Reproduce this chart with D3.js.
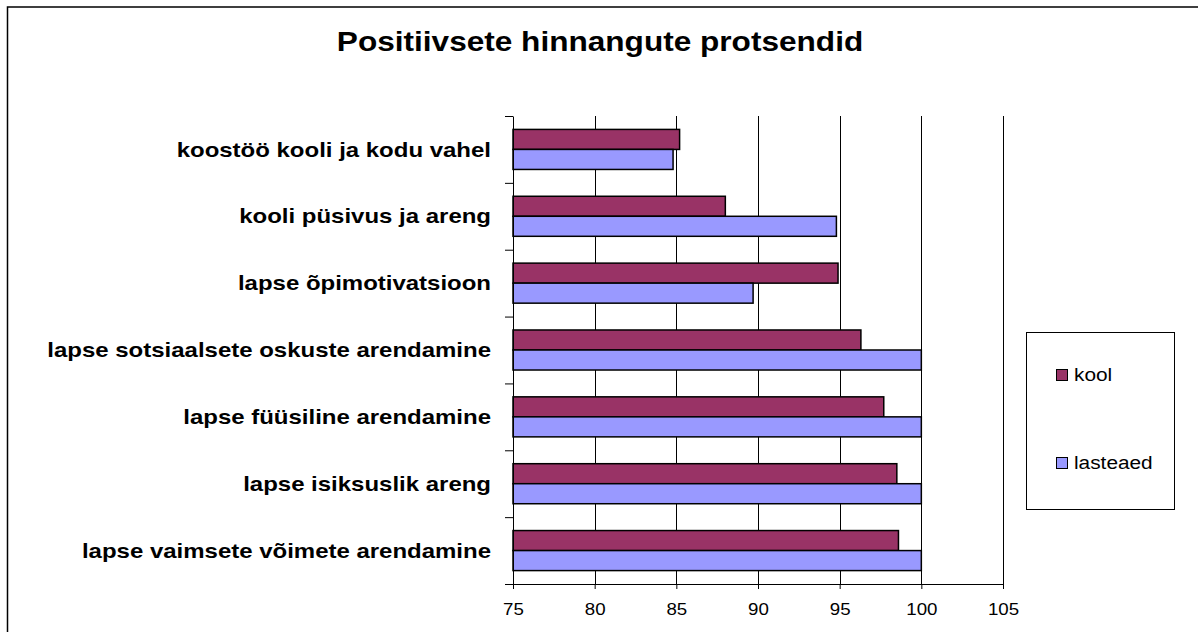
<!DOCTYPE html>
<html>
<head>
<meta charset="utf-8">
<script src="https://d3js.org/d3.v7.min.js"></script>
<style>
  body { margin: 0; background: #fff; }
  text { font-family: "Liberation Sans", Arial, sans-serif; }
</style>
</head>
<body>
<div id="chart"></div>
<script>
const categories = [
  "koostöö kooli ja kodu vahel",
  "kooli püsivus ja areng",
  "lapse õpimotivatsioon",
  "lapse sotsiaalsete oskuste arendamine",
  "lapse füüsiline arendamine",
  "lapse isiksuslik areng",
  "lapse vaimsete võimete arendamine"
];
const series = ["kool", "lasteaed"];
const koolValues = [85.2, 88.0, 94.9, 96.3, 97.7, 98.5, 98.6];
const lasteaedValues = [84.8, 94.8, 89.7, 100, 100, 100, 100];
const xTicks = [75, 80, 85, 90, 95, 100, 105];
const colors = { kool: "#993366", lasteaed: "#9999FF" };

const width = 1198, height = 632;
const plot = { left: 513, right: 1003, top: 116, bottom: 584 };
// the original picture is a little wider than tall, text is stretched too
const sx = 1.17;

const svg = d3.select("#chart")
  .append("svg")
    .attr("width", width)
    .attr("height", height);

// outer chart frame
svg.append("rect")
  .attr("x", 7.5).attr("y", 7)
  .attr("width", 1200).attr("height", 640)
  .attr("fill", "none")
  .attr("stroke", "#000")
  .attr("stroke-width", 1.5);

svg.append("text")
  .attr("transform", `translate(600,51) scale(${sx},1)`)
  .attr("text-anchor", "middle")
  .style("font-size", "27px")
  .style("font-weight", "bold")
  .text("Positiivsete hinnangute protsendid");

const x = d3.scaleLinear()
  .domain([75, 105])
  .range([plot.left, plot.right]);

const y = d3.scaleBand()
  .domain(categories)
  .range([plot.top, plot.bottom])
  .padding(0);

const y1 = d3.scaleBand()
  .domain(series)
  .range([0, y.bandwidth()])
  .paddingOuter(0.67);

// vertical gridlines
svg.append("g")
  .selectAll("line")
  .data(xTicks.slice(1))
  .join("line")
    .attr("x1", d => Math.round(x(d)) + 0.5)
    .attr("x2", d => Math.round(x(d)) + 0.5)
    .attr("y1", plot.top)
    .attr("y2", plot.bottom)
    .attr("stroke", "#000")
    .attr("stroke-width", 1);

const rows = categories.map((c, i) => ({
  category: c,
  values: [
    { key: "kool", value: koolValues[i] },
    { key: "lasteaed", value: lasteaedValues[i] }
  ]
}));

svg.append("g")
  .selectAll("g")
  .data(rows)
  .join("g")
    .attr("transform", d => `translate(0,${y(d.category)})`)
  .selectAll("rect")
  .data(d => d.values)
  .join("rect")
    .attr("x", x(75))
    .attr("y", d => y1(d.key))
    .attr("width", d => x(d.value) - x(75))
    .attr("height", y1.bandwidth())
    .attr("fill", d => colors[d.key])
    .attr("stroke", "#000")
    .attr("stroke-width", 1.5);

// x axis
const xAxis = svg.append("g")
  .attr("transform", `translate(0,${plot.bottom})`)
  .call(d3.axisBottom(x).tickValues(xTicks).tickSize(5).tickSizeOuter(0));
xAxis.select(".domain").attr("stroke", "#000");
xAxis.selectAll(".tick text")
  .attr("y", null).attr("dy", null)
  .attr("transform", `translate(0,31) scale(${sx},1)`)
  .style("font-size", "16px")
  .style("font-family", "'Liberation Sans', Arial, sans-serif");

// y axis with ticks between categories
const yIdx = d3.scaleLinear().domain([0, categories.length]).range([plot.top, plot.bottom]);
svg.append("g")
  .attr("transform", `translate(${plot.left},0)`)
  .call(d3.axisLeft(yIdx).tickValues(d3.range(categories.length + 1)).tickFormat("").tickSize(8).tickSizeOuter(0));

// category labels
svg.append("g")
  .selectAll("text")
  .data(categories)
  .join("text")
    .attr("transform", d => `translate(491,${y(d) + y.bandwidth() / 2}) scale(${sx},1)`)
    .attr("dy", "0.35em")
    .attr("text-anchor", "end")
    .style("font-size", "20.5px")
    .style("font-weight", "bold")
    .text(d => d);

// legend
const legend = svg.append("g");
legend.append("rect")
  .attr("x", 1026.5).attr("y", 332.5)
  .attr("width", 148).attr("height", 177)
  .attr("fill", "#fff")
  .attr("stroke", "#000");

const legendY = [381, 469];
const items = legend.selectAll("g.item")
  .data(series)
  .join("g")
    .attr("class", "item")
    .attr("transform", (d, i) => `translate(1056,${legendY[i]})`);
items.append("rect")
  .attr("x", 0.5).attr("y", -11.5)
  .attr("width", 11).attr("height", 11)
  .attr("fill", d => colors[d])
  .attr("stroke", "#000");
items.append("text")
  .attr("transform", `translate(18,0) scale(${sx},1)`)
  .style("font-size", "17.8px")
  .text(d => d);
</script>
</body>
</html>
